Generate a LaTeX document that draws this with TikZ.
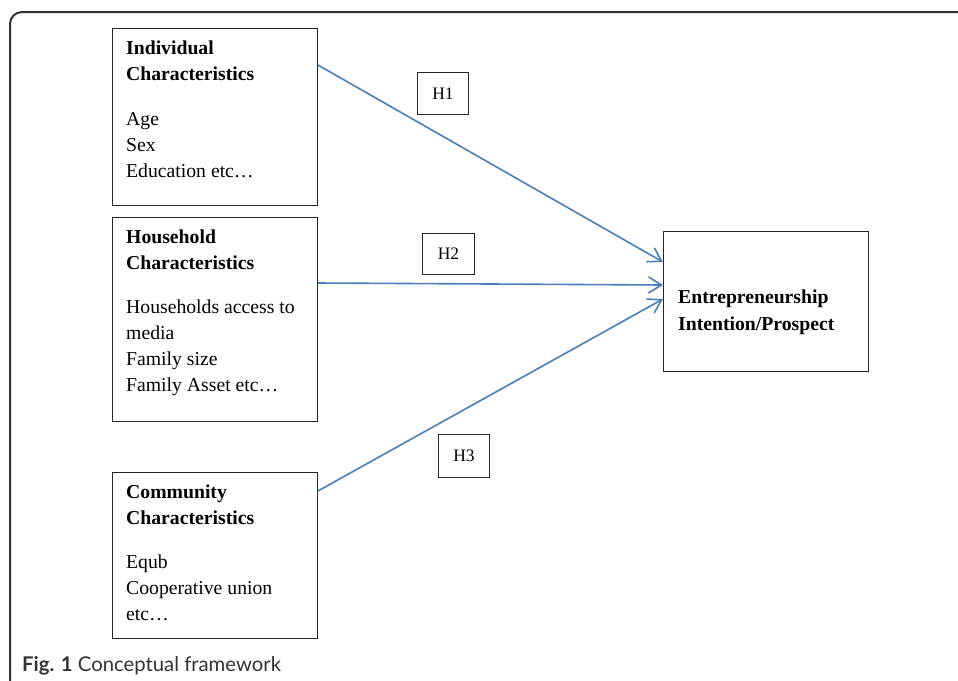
\documentclass[tikz,border=0pt]{standalone}
\usepackage{fontspec}
\setmainfont{Liberation Serif}
\newfontfamily\capfont{Lato}
\usetikzlibrary{arrows.meta}
\definecolor{arrowblue}{HTML}{4A7EBB}
\definecolor{framegray}{HTML}{333333}
\tikzset{
  box/.style={draw=black!85, line width=0.9pt, inner sep=0pt},
  hbox/.style={draw=black!85, line width=0.9pt, inner sep=0pt},
  ln/.style={anchor=base west, inner sep=0pt, font=\fontsize{19.7}{26}\selectfont},
  bln/.style={ln, font=\fontsize{19.7}{26}\selectfont\bfseries},
  hl/.style={anchor=center, inner sep=0pt, font=\fontsize{17.5}{20}\selectfont},
  link/.style={draw=arrowblue, line width=1.6pt, -{Straight Barb[length=13pt, width=16pt, line width=1.6pt]}},
}
\begin{document}
\begin{tikzpicture}[x=1pt, y=-1pt]
\useasboundingbox (0,0) rectangle (958,680);
\clip (0,0) rectangle (958,680);
% frame
\draw[framegray, line width=2pt, rounded corners=12pt] (10,700) -- (10,12) -- (980,12);
% boxes
\node[box, minimum width=205pt, minimum height=177pt, anchor=north west] (ind) at (112,28) {};
\node[box, minimum width=205pt, minimum height=204pt, anchor=north west] (hh) at (112,217) {};
\node[box, minimum width=205pt, minimum height=166pt, anchor=north west] (com) at (112,472) {};
\node[box, minimum width=205pt, minimum height=140pt, anchor=north west] (ent) at (663,231) {};
% hypothesis boxes
\node[hbox, minimum width=51pt, minimum height=42pt, anchor=north west] (h1) at (417,72) {};
\node[hl] (h1t) at (h1.center) {H1};
\node[hbox, minimum width=52pt, minimum height=41pt, anchor=north west] (h2) at (422,233) {};
\node[hl] (h2t) at (h2.center) {H2};
\node[hbox, minimum width=51pt, minimum height=43pt, anchor=north west] (h3) at (438,434) {};
\node[hl] (h3t) at (h3.center) {H3};
% texts box 1
\node[bln] (i1) at (126,54) {Individual};
\node[bln] (i2) at (126,80) {Characteristics};
\node[ln] (i3) at (126,125) {Age};
\node[ln] (i4) at (126,151) {Sex};
\node[ln] (i5) at (126,177) {Education etc…};
% texts box 2
\node[bln] (o1) at (126,243) {Household};
\node[bln] (o2) at (126,269) {Characteristics};
\node[ln] (o3) at (126,313) {Households access to};
\node[ln] (o4) at (126,339) {media};
\node[ln] (o5) at (126,365) {Family size};
\node[ln] (o6) at (126,391) {Family Asset etc…};
% texts box 3
\node[bln] (c1) at (126,498) {Community};
\node[bln] (c2) at (126,524) {Characteristics};
\node[ln] (c3) at (126,568) {Equb};
\node[ln] (c4) at (126,594) {Cooperative union};
\node[ln] (c5) at (126,620) {etc…};
% target text
\node[bln] (e1) at (678,303) {Entrepreneurship};
\node[bln] (e2) at (678,330) {Intention/Prospect};
% connectors
\coordinate (a1) at (663,262);
\coordinate (a2) at (663,285);
\coordinate (a3) at (663,299);
\draw[link] (ind.east |- 0,65) -- (a1);
\draw[link] (hh.east |- 0,283) -- (a2);
\draw[link] (com.east |- 0,491) -- (a3);
% caption
\node[anchor=base west, inner sep=0pt, text=black!80, font=\capfont\fontsize{20.3}{24}\selectfont] (cap) at (22,671) {\textbf{Fig. 1} Conceptual framework};
\end{tikzpicture}
\end{document}
